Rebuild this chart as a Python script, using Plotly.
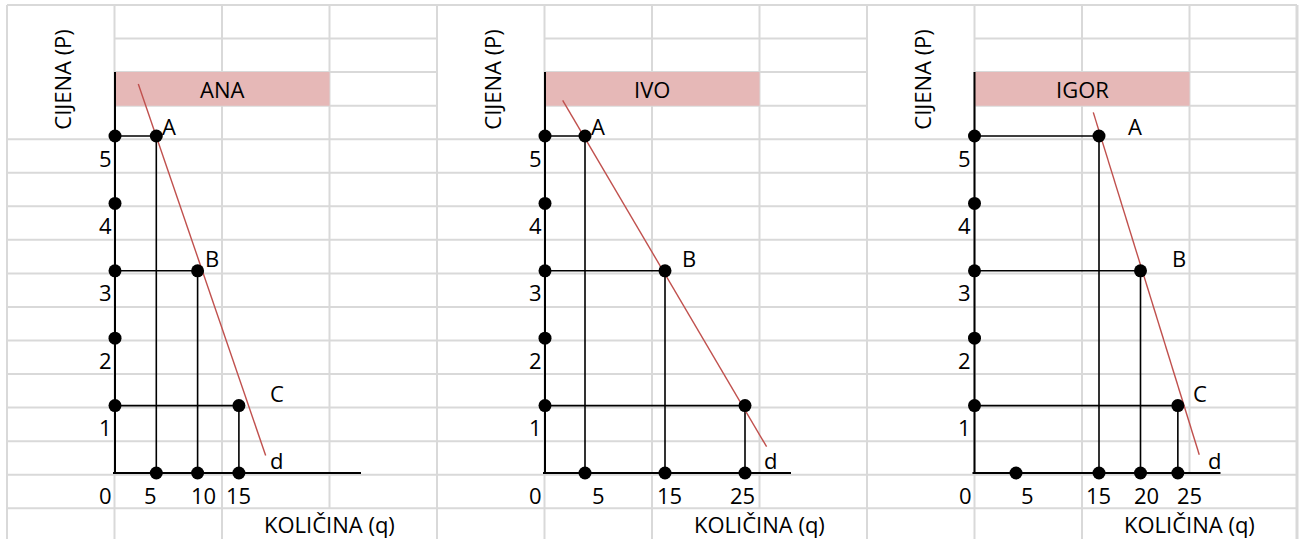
import plotly.graph_objects as go

# ---------------- DATA ----------------
persons = ["ANA", "IVO", "IGOR"]
point_names = ["A", "B", "C"]
point_prices = [5, 3, 1]                       # P of points A, B, C
ana_q = [5, 10, 15]                            # q of A, B, C
ivo_q = [5, 15, 25]
igor_q = [15, 20, 24.5]
price_ticks = [1, 2, 3, 4, 5]                  # dots / labels on the price axis
ana_qticks = [0, 5, 10, 15]
ivo_qticks = [0, 5, 15, 25]
igor_qticks = [0, 5, 15, 20, 25]
ana_qdots = [5, 10, 15]                        # dots on the quantity axis
ivo_qdots = [5, 15, 25]
igor_qdots = [5, 15, 20, 24.5]
ana_demand_q = [2.82, 18.24]                   # demand line d (end points)
ana_demand_p = [5.77, 0.26]
ivo_demand_q = [2.21, 27.7]
ivo_demand_p = [5.53, 0.39]
igor_demand_q = [14.31, 27.08]
igor_demand_p = [5.35, 0.27]
point_label_shown = [[True, True, True], [True, True, False], [True, True, True]]
x_title = "KOLIČINA (q)"
y_title = "CIJENA (P)"

panels_q = [ana_q, ivo_q, igor_q]
panels_qticks = [ana_qticks, ivo_qticks, igor_qticks]
panels_qdots = [ana_qdots, ivo_qdots, igor_qdots]
panels_dq = [ana_demand_q, ivo_demand_q, igor_demand_q]
panels_dp = [ana_demand_p, ivo_demand_p, igor_demand_p]

# ---------------- LAYOUT / STYLE ----------------
W, H = 1304, 539
COL0, COLW = 7.0, 107.5          # spreadsheet grid
ROW0, ROWH = 5.0, 33.55
NCOL, NROW = 12, 15
ORIGIN_X = [115.0, 545.0, 974.5]  # pixel of q = 0 in each panel
SCALE_X = [8.26, 8.0, 8.3]        # pixels per unit of q
ORIGIN_Y, SCALE_Y = 473.0, 67.4   # pixel of P = 0, pixels per unit of P

GRID_C = "#D9D9D9"
PINK = "#E6B8B7"
RED = "#C0504D"
FONT = dict(family="Open Sans, Noto Sans, DejaVu Sans", size=22, color="#000000")

# label offsets (pixels, +dx right, +dy down) - style only
pt_label_off = [
    [(12.7, -10.4), (14.1, -13.3), (38.1, -12.6)],
    [(13.3, -10.4), (24.0, -13.3), (0, 0)],
    [(36.0, -10.4), (38.0, -13.3), (21.8, -12.6)],
]
d_label_off = [(11.2, 4.3), (3.4, 13.3), (15.0, 5.0)]
qtick_shift = [
    [-9.5, -6.3, 5.4, -0.9],
    [-10.0, 13.0, 4.0, -2.5],
    [-9.5, 11.5, -0.5, 5.5, 7.5],
]
TICK_DY = 21.5


def px(x):
    return x / W


def py(y):
    return 1 - y / H


fig = go.Figure()
shapes = []

# spreadsheet grid (decoration)
col_x = [COL0 + COLW * k for k in range(NCOL + 1)]
row_y = [ROW0 + ROWH * r for r in range(NROW + 1)]
for k, x in enumerate(col_x):
    segs = [(ROW0, H)]
    hide = []
    if k in (3, 7, 11):
        hide.append((row_y[15], H))
    if k == 11:
        hide.append((row_y[14], row_y[15]))
    if hide:
        lo = min(h[0] for h in hide)
        segs = [(ROW0, lo)]
    for (a, b) in segs:
        shapes.append(dict(type="line", xref="paper", yref="paper", layer="below",
                           x0=px(x), x1=px(x), y0=py(a), y1=py(b),
                           line=dict(color=GRID_C, width=3 if k == NCOL else 2)))
for r, y in enumerate(row_y):
    if r in (1, 2, 3):
        for p in range(3):
            shapes.append(dict(type="line", xref="paper", yref="paper", layer="below",
                               x0=px(col_x[4 * p + 1]), x1=px(col_x[4 * p + 4]),
                               y0=py(y), y1=py(y), line=dict(color=GRID_C, width=2)))
    else:
        shapes.append(dict(type="line", xref="paper", yref="paper", layer="below",
                           x0=px(col_x[0]), x1=px(col_x[-1]), y0=py(y), y1=py(y),
                           line=dict(color=GRID_C, width=2)))

annotations = []
for i, name in enumerate(persons):
    xa = "x" if i == 0 else f"x{i+1}"
    ya = "y" if i == 0 else f"y{i+1}"
    ox, sx = ORIGIN_X[i], SCALE_X[i]
    qs = panels_q[i]

    # title cell
    shapes.append(dict(type="rect", xref="paper", yref="paper", layer="below",
                       x0=px(col_x[4 * i + 1]), x1=px(col_x[4 * i + 3]),
                       y0=py(row_y[2]), y1=py(row_y[3]),
                       fillcolor=PINK, line=dict(width=0)))
    annotations.append(dict(xref="paper", yref="paper", x=px(col_x[4 * i + 2]),
                            y=py((row_y[2] + row_y[3]) / 2), text=name, showarrow=False,
                            font=FONT, xanchor="center", yanchor="middle"))
    # axis titles
    annotations.append(dict(xref="paper", yref="paper", x=px(col_x[4 * i] + 54.7),
                            y=py(79), text=y_title, textangle=-90, showarrow=False,
                            font=FONT, xanchor="center", yanchor="middle"))
    annotations.append(dict(xref="paper", yref="paper", x=px(col_x[4 * i + 3]),
                            y=py(524), text=x_title, showarrow=False,
                            font=FONT, xanchor="center", yanchor="middle"))

    # axes lines
    p_top = (ORIGIN_Y - row_y[2]) / SCALE_Y
    q_lo, q_hi = -2 / sx, 246 / sx
    fig.add_trace(go.Scatter(x=[0, 0, None, q_lo, q_hi], y=[p_top, 0, None, 0, 0],
                             mode="lines", line=dict(color="black", width=2),
                             xaxis=xa, yaxis=ya, hoverinfo="skip"))
    # guide lines from axes to points
    gx, gy = [], []
    for q, p in zip(qs, point_prices):
        gx += [0, q, q, None]
        gy += [p, p, 0, None]
    fig.add_trace(go.Scatter(x=gx, y=gy, mode="lines", line=dict(color="black", width=1.6),
                             xaxis=xa, yaxis=ya, hoverinfo="skip"))
    # demand line
    fig.add_trace(go.Scatter(x=panels_dq[i], y=panels_dp[i], mode="lines",
                             line=dict(color=RED, width=1.4), xaxis=xa, yaxis=ya,
                             hoverinfo="skip"))
    # dots
    dx_ = [0] * len(price_ticks) + panels_qdots[i] + qs
    dy_ = price_ticks + [0] * len(panels_qdots[i]) + point_prices
    fig.add_trace(go.Scatter(x=dx_, y=dy_, mode="markers",
                             marker=dict(color="black", size=13),
                             xaxis=xa, yaxis=ya, hoverinfo="skip"))

    # point labels
    for j, (q, p) in enumerate(zip(qs, point_prices)):
        if point_label_shown[i][j]:
            ddx, ddy = pt_label_off[i][j]
            annotations.append(dict(xref=xa, yref=ya, x=q, y=p, text=point_names[j],
                                    showarrow=False, font=FONT, xshift=ddx, yshift=-ddy,
                                    xanchor="center", yanchor="middle"))
    ddx, ddy = d_label_off[i]
    annotations.append(dict(xref=xa, yref=ya, x=panels_dq[i][1], y=panels_dp[i][1], text="d",
                            showarrow=False, font=FONT, xshift=ddx, yshift=-ddy,
                            xanchor="center", yanchor="middle"))
    # tick labels
    for p in price_ticks:
        annotations.append(dict(xref=xa, yref=ya, x=0, y=p, text=str(p), showarrow=False,
                                font=FONT, xshift=-10, yshift=-TICK_DY,
                                xanchor="center", yanchor="middle"))
    for q, sh in zip(panels_qticks[i], qtick_shift[i]):
        annotations.append(dict(xref=xa, yref=ya, x=q, y=0, text=str(q), showarrow=False,
                                font=FONT, xshift=sh, yshift=-TICK_DY,
                                xanchor="center", yanchor="middle"))

layout_axes = {}
for i in range(3):
    ox, sx = ORIGIN_X[i], SCALE_X[i]
    xk = "xaxis" if i == 0 else f"xaxis{i+1}"
    yk = "yaxis" if i == 0 else f"yaxis{i+1}"
    layout_axes[xk] = dict(domain=[0, 1], range=[(0 - ox) / sx, (W - ox) / sx],
                           visible=False, fixedrange=True,
                           anchor="y" if i == 0 else f"y{i+1}")
    layout_axes[yk] = dict(domain=[0, 1],
                           range=[(ORIGIN_Y - H) / SCALE_Y, ORIGIN_Y / SCALE_Y],
                           visible=False, fixedrange=True,
                           anchor="x" if i == 0 else f"x{i+1}")

fig.update_layout(width=W, height=H, margin=dict(l=0, r=0, t=0, b=0, pad=0),
                  paper_bgcolor="white", plot_bgcolor="rgba(0,0,0,0)",
                  showlegend=False, shapes=shapes, annotations=annotations,
                  **layout_axes)

fig.write_html("out.html", config={"displayModeBar": False},
               post_script="document.body.style.margin='0';document.body.style.overflow='hidden';")
